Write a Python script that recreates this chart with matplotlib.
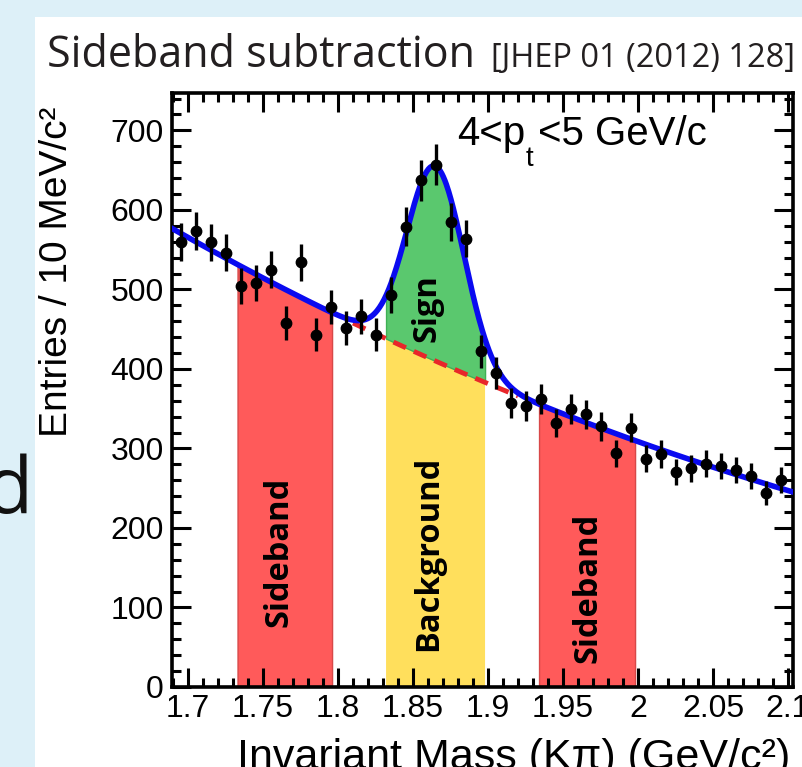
import numpy as np
import matplotlib.pyplot as plt
from matplotlib.patches import Rectangle
from matplotlib.ticker import MultipleLocator, FuncFormatter

# data: D0 candidates per 10 MeV bin, 4 < pt < 5 GeV/c
mass = [1.695, 1.705, 1.715, 1.725, 1.735, 1.745, 1.755, 1.765, 1.775, 1.785,
        1.795, 1.805, 1.815, 1.825, 1.835, 1.845, 1.855, 1.865, 1.875, 1.885,
        1.895, 1.905, 1.915, 1.925, 1.935, 1.945, 1.955, 1.965, 1.975, 1.985,
        1.995, 2.005, 2.015, 2.025, 2.035, 2.045, 2.055, 2.065, 2.075, 2.085,
        2.095]
counts = [560, 573, 559, 546, 504, 508, 525, 458, 534, 443,
          478, 451, 466, 443, 493, 579, 637, 657, 585, 564,
          422, 395, 357, 353, 362, 332, 350, 343, 328, 294,
          326, 287, 293, 270, 275, 281, 278, 273, 265, 244,
          260]

# fit: exp(pol2) background + gaussian signal
bkg_par = [6.356, -1.853, -0.516]
bkg_x0 = 1.69
sig_amp, sig_mean, sig_sigma = 245.0, 1.865, 0.019

# regions
sideband_lo = (1.733, 1.796)
sideband_hi = (1.934, 1.998)
signal_win = (1.832, 1.898)
dashed_range = (1.81, 1.92)


def bkg(x):
    d = x - bkg_x0
    return np.exp(bkg_par[0] + bkg_par[1] * d + bkg_par[2] * d * d)


def total(x):
    return bkg(x) + sig_amp * np.exp(-0.5 * ((x - sig_mean) / sig_sigma) ** 2)


W, H = 803, 767


def fx(px):
    return px / W


def fy(py):
    return 1 - py / H


plt.rcParams['font.family'] = ['Liberation Sans', 'DejaVu Sans']

fig = plt.figure(figsize=(W / 100, H / 100), dpi=100)
fig.patch.set_facecolor('#ddf0f8')
fig.add_artist(Rectangle((fx(35), 0), 1 - fx(35), fy(17), transform=fig.transFigure,
                         facecolor='white', edgecolor='none', zorder=0))

# slide title
title_col = '#231f20'
fig.text(fx(47), fy(67), 'Sideband subtraction', family='Open Sans', fontsize=31,
         color=title_col, va='baseline', ha='left')
fig.text(fx(491), fy(67), '[JHEP 01 (2012) 128]', family='Open Sans', fontsize=23.5,
         color=title_col, va='baseline', ha='left')
fig.text(fx(33), fy(513), 'd', family='Open Sans', fontsize=57, color='#111111',
         va='baseline', ha='right')

ax = fig.add_axes([fx(172), fy(687), fx(793) - fx(172), fy(93) - fy(687)])
ax.set_xlim(1.6893, 2.1033)
ax.set_ylim(0, 747)

xs = np.linspace(1.6893, 2.1033, 800)

# shaded regions
for lo, hi in (sideband_lo, sideband_hi):
    xb = np.linspace(lo, hi, 200)
    ax.fill_between(xb, 0, total(xb), facecolor='#ff5a5a', edgecolor='#d84848',
                    linewidth=1, zorder=1)
xw = np.linspace(signal_win[0], signal_win[1], 200)
ax.fill_between(xw, 0, bkg(xw), facecolor='#ffdf5c', edgecolor='none', zorder=1)
ax.fill_between(xw, bkg(xw), total(xw), facecolor='#5ac86e', edgecolor='#3fb055',
                linewidth=1, zorder=1)

xd = np.linspace(dashed_range[0], dashed_range[1], 100)
ax.plot(xd, bkg(xd), color='#e8262a', lw=3.5, ls=(0, (2.8, 1.8)), zorder=3)
ax.plot(xs, total(xs), color='#0a0af0', lw=4, zorder=4)

ax.errorbar(mass, counts, yerr=np.sqrt(counts), fmt='o', color='black', ms=7.5,
            elinewidth=2.4, capsize=0, zorder=5)

band_font = dict(family='Open Sans', fontweight='bold', fontsize=23.5, color='black',
                 rotation=90, rotation_mode='anchor', ha='center', va='baseline', zorder=6)
ax.text(1.7665, 170, 'Sideband', **band_font)
ax.text(1.9725, 125, 'Sideband', **band_font)
ax.text(1.8658, 168, 'Background', **band_font)
ax.text(1.8647, 477, 'Sign', **band_font)

# 4 < p_t < 5 GeV/c with a deep subscript, ROOT style
fig.text(fx(457), fy(145), '4<p', fontsize=29, va='baseline', ha='left')
fig.text(fx(526), fy(166), 't', fontsize=20, va='baseline', ha='left')
fig.text(fx(538), fy(145), '<5 GeV/c', fontsize=29, va='baseline', ha='left')

# ROOT-like axes
ax.xaxis.set_major_locator(MultipleLocator(0.05))
ax.xaxis.set_minor_locator(MultipleLocator(0.01))
ax.yaxis.set_major_locator(MultipleLocator(100))
ax.yaxis.set_minor_locator(MultipleLocator(20))
ax.xaxis.set_major_formatter(FuncFormatter(lambda v, p: '%g' % round(v, 3)))
ax.tick_params(which='both', direction='in', top=True, right=True, width=2.2,
               labelsize=23, color='black')
ax.tick_params(which='major', length=13.5)
ax.tick_params(which='minor', length=6.5)
ax.tick_params(axis='x', pad=5)
ax.tick_params(axis='y', pad=6)
for s in ax.spines.values():
    s.set_linewidth(2.6)

fig.text(fx(67), fy(272), 'Entries / 10 MeV/c²', fontsize=28, rotation=90,
         rotation_mode='anchor', ha='center', va='baseline')
fig.text(fx(790), fy(769), 'Invariant Mass (Kπ) (GeV/c²)', fontsize=31,
         ha='right', va='baseline')

fig.savefig('out.png', dpi=100)
